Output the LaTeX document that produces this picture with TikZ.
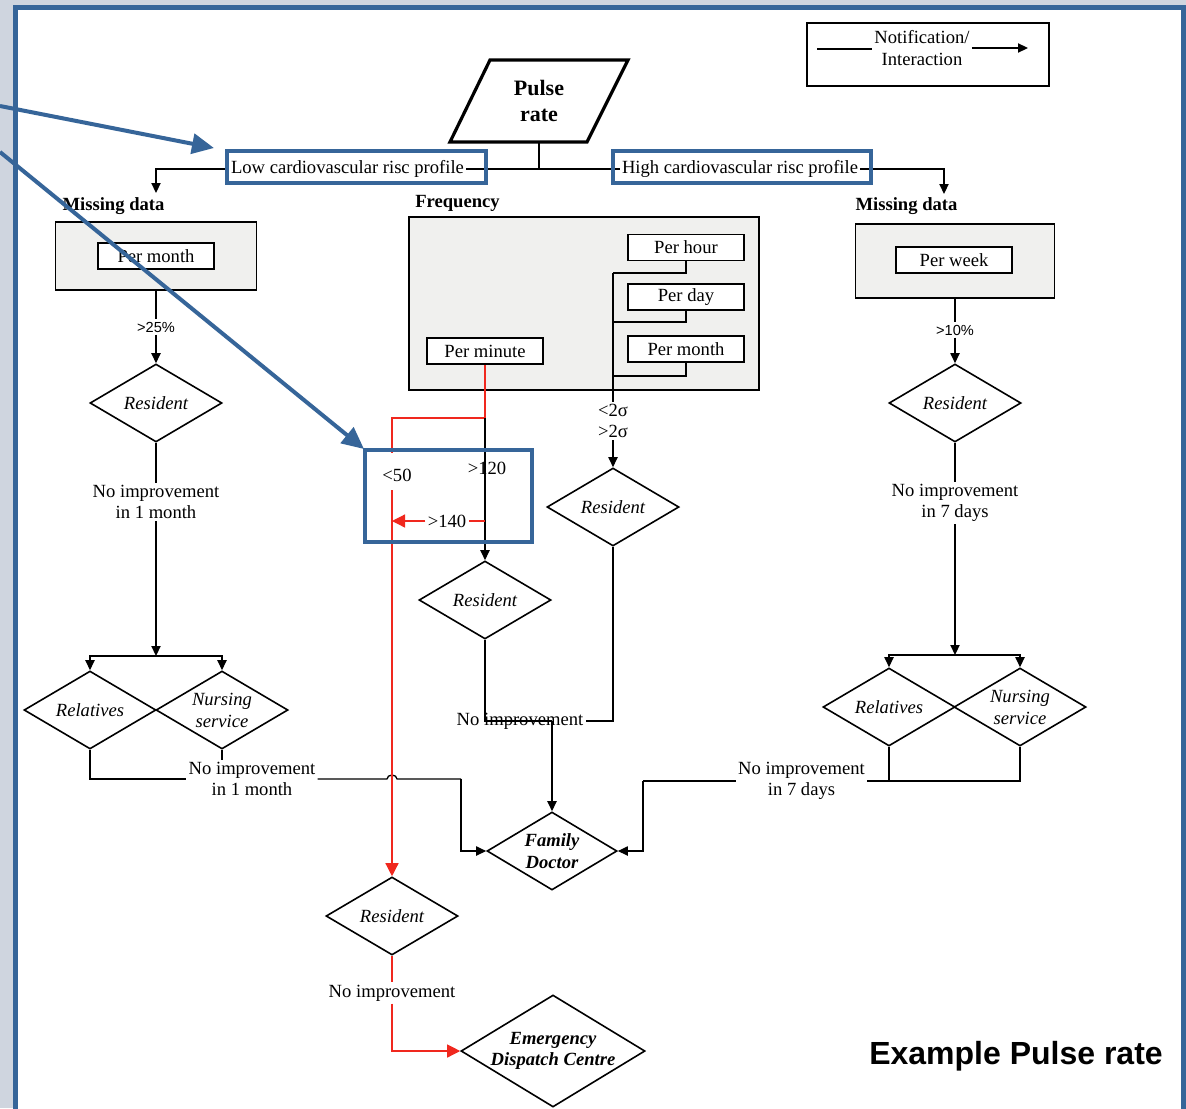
\documentclass[tikz,border=0pt]{standalone}
\usepackage{fontspec}
\setmainfont{Liberation Serif}
\newfontfamily\headfont{Liberation Sans}
\usetikzlibrary{shapes.geometric,arrows.meta}
\definecolor{frameblue}{RGB}{54,101,153}
\definecolor{pagegray}{RGB}{207,213,223}
\definecolor{panelgray}{RGB}{240,240,238}
\definecolor{alertred}{RGB}{240,40,30}

\begin{document}
\begin{tikzpicture}[x=0.5pt,y=-0.5pt,
  every node/.style={font=\fontsize{9.3}{10.8}\selectfont, inner sep=1pt},
  conn/.style={line width=0.65pt},
  arr/.style={conn,-{Triangle[length=5pt,width=4.6pt]}},
  redline/.style={conn,draw=alertred},
  redarr/.style={redline,-{Triangle[length=6.5pt,width=6.5pt]}},
  panel/.style={draw,line width=0.75pt,fill=panelgray,inner sep=0},
  optbox/.style={draw,line width=0.75pt,fill=white,minimum width=58pt,minimum height=13pt,inner sep=0},
  dia/.style={diamond,draw,line width=0.8pt,inner sep=0,minimum width=66pt,minimum height=39pt},
  dtext/.style={font=\fontsize{9.3}{11}\selectfont\itshape,align=center},
  dbold/.style={font=\fontsize{9.3}{10.8}\selectfont\bfseries\itshape,align=center},
  headtext/.style={font=\fontsize{9.3}{11}\selectfont\bfseries},
  pctlabel/.style={font=\fontsize{7.3}{9}\selectfont\headfont},
  hilite/.style={draw=frameblue,line width=1.6pt},
  callout/.style={draw=frameblue,line width=2pt,-{Triangle[length=11pt,width=10pt]}},
]
\useasboundingbox (0,0) rectangle (1186,1108);
\clip (0,0) rectangle (1186,1108);

% page and frame
\fill[pagegray] (0,0) rectangle (1186,1108);
\fill[white] (15,7) rectangle (1184,1108);
\draw[frameblue,line width=2.65pt] (15.4,1120) -- (15.4,7.7) -- (1184,7.7) -- (1184,1120);

% legend
\node[draw,line width=0.75pt,minimum width=121pt,minimum height=31.5pt] (legend) at (928,54.5) {};
\node[align=center,font=\fontsize{9.3}{11}\selectfont] (legtext) at (922,48) {Notification/\\Interaction};
\coordinate (legL) at (817,49);
\coordinate (legR) at (1028,48);
\draw[conn] (legL) -- (legL -| legtext.west);
\draw[arr] (legtext.east |- legR) -- (legR);

% start symbol
\draw[line width=1.6pt,line join=miter] (450,142) -- (490,60) -- (628,60) -- (587,142) -- cycle;
\node[font=\fontsize{11}{13}\selectfont\bfseries,align=center] (pulse) at (539,101) {Pulse\\rate};
\coordinate (pulsefoot) at (539,142);

% risk profiles
\node (low) at (347.5,169) {Low cardiovascular risc profile};
\node (high) at (740,169) {High cardiovascular risc profile};

% left column nodes
\node[headtext] (mdl) at (113.5,206) {Missing data};
\node[panel,minimum width=100.5pt,minimum height=34pt] (mboxl) at (156,256) {};
\node[optbox] (pmonthl) at (156,256) {Per month};
\node[pctlabel] (p25) at (156,327) {>25\%};
\node[dia] (resl) at (156,403) {};
\node[dtext] (reslt) at (resl) {Resident};
\node[align=center] (nil) at (156,502) {No improvement\\in 1 month};
\node[dia] (rell) at (90,710) {};
\node[dtext] (rellt) at (rell) {Relatives};
\node[dia] (nurl) at (222,710) {};
\node[dtext] (nurlt) at (nurl) {Nursing\\service};
\node[align=center] (nil2) at (252,779) {No improvement\\in 1 month};

% frequency column nodes
\node[headtext] (freq) at (457.5,203) {Frequency};
\node[panel,minimum width=175pt,minimum height=86.5pt] (fbox) at (584,303.5) {};
\node[optbox] (phour) at (686,247.5) {Per hour};
\node[optbox] (pday) at (686,297) {Per day};
\node[optbox] (pmonth) at (686,349) {Per month};
\node[optbox] (pmin) at (485,351) {Per minute};
\node[align=center] (sigma) at (613,421) {<2σ\\>2σ};
\node[dia] (resm) at (613,507) {};
\node[dtext] (resmt) at (resm) {Resident};
\node (lt50) at (397,475) {<50};
\node (gt120) at (487,468) {>120};
\node[fill=white] (gt140) at (447,521) {>140};
\node[dia] (resc) at (485,600) {};
\node[dtext] (resct) at (resc) {Resident};
\node (nim) at (520,721) {No improvement};
\node[dia,minimum width=65pt] (fd) at (552,851) {};
\node[dbold] (fdt) at (fd) {Family\\Doctor};
\node[dia] (resr) at (392,916) {};
\node[dtext] (resrt) at (resr) {Resident};
\node (nib) at (392,993) {No improvement};
\node[dia,minimum width=92pt,minimum height=56pt] (eds) at (553,1051) {};
\node[dbold] (edst) at (eds) {Emergency\\Dispatch Centre};

% right column nodes
\node[headtext] (mdr) at (906.5,206) {Missing data};
\node[panel,minimum width=99.5pt,minimum height=37pt] (mboxr) at (955,261) {};
\node[optbox] (pweek) at (954,260) {Per week};
\node[pctlabel] (p10) at (955,330) {>10\%};
\node[dia] (resw) at (955,403) {};
\node[dtext] (reswt) at (resw) {Resident};
\node[align=center] (nir) at (955,503) {No improvement\\in 7 days};
\node[dia] (relr) at (889,707) {};
\node[dtext] (relrt) at (relr) {Relatives};
\node[dia] (nurr) at (1020,707) {};
\node[dtext] (nurrt) at (nurr) {Nursing\\service};
\node[align=center] (nir2) at (801.5,781) {No improvement\\in 7 days};

% caption
\node[font=\headfont\bfseries\fontsize{16}{19}\selectfont] (caption) at (1016,1056) {Example Pulse rate};

% ---- connectors ----
\draw[conn] (pulsefoot) |- (low.east);
\draw[conn] (pulsefoot) |- (high.west);
\coordinate (leftdrop) at (156,193);
\coordinate (rightdrop) at (944,194);
\draw[arr] (low.west) -| (leftdrop);
\draw[arr] (high.east) -| (rightdrop);

% left column
\draw[conn] (mboxl.south) -- (p25.north);
\draw[arr] (p25.south) -- (resl.north);
\draw[conn] (resl.south) -- (nil.north);
\coordinate (forkl) at (156,656);
\draw[arr] (nil.south) -- (forkl);
\draw[arr] (forkl) -| (rell.north);
\draw[arr] (forkl) -| (nurl.north);
\draw[conn] (rell.south) |- (nil2.west);
\draw[conn] (nurl.south) -- (nurl.south |- nil2.north);
\coordinate (hopL) at (387,779);
\coordinate (famL) at (461,779);
\draw[conn] (nil2.east) -- (hopL) arc[start angle=180,end angle=360,x radius=5,y radius=4] -- (famL);
\draw[arr] (famL) |- (fd.west);

% frequency column
\coordinate (tA) at (613,273);
\coordinate (tB) at (613,322);
\coordinate (tC) at (613,376);
\draw[conn] (phour.south) |- (tA);
\draw[conn] (pday.south) |- (tB);
\draw[conn] (pmonth.south) |- (tC);
\draw[conn] (tA) -- (sigma.north);
\draw[arr] (sigma.south) -- (resm.north);
\draw[conn] (resm.south) |- (nim.east);

\coordinate (split) at (485,418);
\coordinate (lowA) at (392,453);
\coordinate (lowB) at (392,490);
\draw[redline] (pmin.south) -- (split);
\draw[redline] (split) -| (lowA);
\draw[redarr] (lowB) -- (resr.north);
\draw[arr] (split) -- (resc.north);
\coordinate (h140) at (485,521);
\coordinate (h140end) at (392,521);
\draw[redline] (h140) -- (gt140.east);
\draw[redarr] (gt140.west) -- (h140end);

\coordinate (mjoin) at (552,721);
\draw[conn] (resc.south) |- (mjoin);
\draw[arr] (mjoin) -- (fd.north);

\draw[redline] (resr.south) -- (nib.north);
\draw[redarr] (nib.south) |- (eds.west);

% right column
\draw[conn] (mboxr.south) -- (p10.north);
\draw[arr] (p10.south) -- (resw.north);
\draw[conn] (resw.south) -- (nir.north);
\coordinate (forkr) at (955,655);
\draw[arr] (nir.south) -- (forkr);
\draw[arr] (forkr) -| (relr.north);
\draw[arr] (forkr) -| (nurr.north);
\draw[conn] (nurr.south) |- (nir2.east);
\draw[conn] (relr.south) -- (relr.south |- nir2.east);
\coordinate (rbend) at (643,781);
\draw[conn] (nir2.west) -- (rbend);
\draw[arr] (rbend) |- (fd.east);

% highlight marks and callouts
\node[hilite,minimum width=129.5pt,minimum height=16pt] (lowmark) at (356.5,167) {};
\node[hilite,minimum width=129pt,minimum height=16pt] (highmark) at (742,167) {};
\node[hilite,minimum width=83.5pt,minimum height=46pt] (cutmark) at (448.5,496) {};
\coordinate (cal1) at (0,106);
\coordinate (cal2) at (0,152);
\coordinate (tip1) at (214,148);
\coordinate (tip2) at (364,449);
\draw[callout] (cal1) -- (tip1);
\draw[callout] (cal2) -- (tip2);
\end{tikzpicture}
\end{document}
